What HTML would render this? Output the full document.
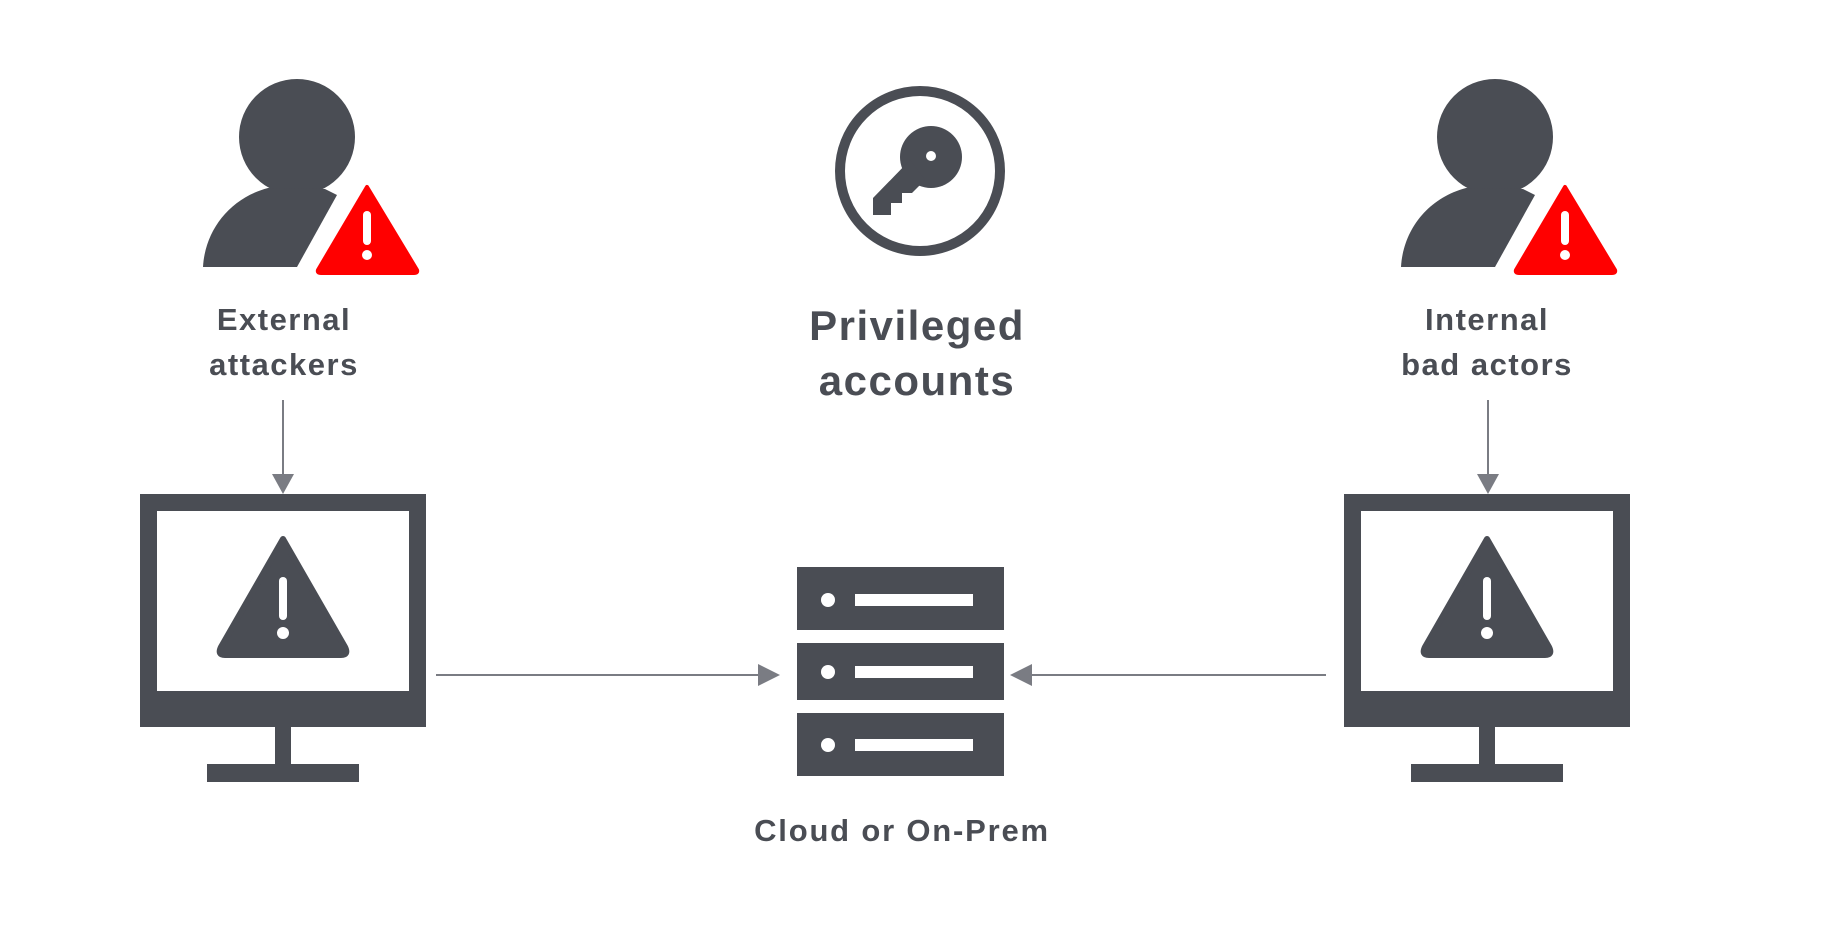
<!DOCTYPE html>
<html><head><meta charset="utf-8"><style>
html,body{margin:0;padding:0;background:#fff;}
svg{display:block;}
text{font-family:"Liberation Sans",sans-serif;fill:#4a4d54;text-anchor:middle;font-weight:bold;}
</style></head><body>
<svg width="1827" height="929" viewBox="0 0 1827 929" xmlns="http://www.w3.org/2000/svg">
<defs>
<g id="person">
  <circle cx="297" cy="137" r="58" fill="#4a4d54"/>
  <path d="M203 267 C205 230 230 198 268 188 L325 189 L337 195 L297 267 Z" fill="#4a4d54"/>
  <path d="M367 187 L417 270 Q418 273 414 273 L321 273 Q317 273 318 270 Z" fill="#ff0000" stroke="#ff0000" stroke-width="4" stroke-linejoin="round"/>
  <rect x="363" y="211" width="8" height="34" rx="4" fill="#fff"/>
  <circle cx="367" cy="255" r="5" fill="#fff"/>
</g>
<g id="monitor">
  <rect x="140" y="494" width="286" height="233" fill="#4a4d54"/>
  <rect x="157" y="511" width="252" height="180" fill="#fff"/>
  <rect x="275" y="727" width="16" height="37" fill="#4a4d54"/>
  <rect x="207" y="764" width="152" height="18" fill="#4a4d54"/>
  <path d="M283 539 L345 647 Q349 655 341 655 L225 655 Q217 655 221 647 Z" fill="#4a4d54" stroke="#4a4d54" stroke-width="6" stroke-linejoin="round"/>
  <rect x="279" y="577" width="8" height="43" rx="4" fill="#fff"/>
  <circle cx="283" cy="633" r="6" fill="#fff"/>
</g>
</defs>
<use href="#person"/>
<use href="#person" transform="translate(1198,0)"/>
<use href="#monitor"/>
<use href="#monitor" transform="translate(1204,0)"/>

<!-- key -->
<circle cx="920" cy="171" r="80" fill="none" stroke="#4a4d54" stroke-width="10"/>
<circle cx="931" cy="157" r="31" fill="#4a4d54"/>
<path d="M910 160 L873 198 L873 215 L891 215 L891 203 L902 203 L902 193 L912 193 L925 180 Z" fill="#4a4d54"/>
<circle cx="931" cy="156" r="5" fill="#fff"/>

<!-- labels -->
<text x="284" y="330" font-size="31" letter-spacing="1.5">External</text>
<text x="284" y="375" font-size="31" letter-spacing="1.5">attackers</text>
<text x="917" y="340" font-size="42" letter-spacing="1.5">Privileged</text>
<text x="917" y="395" font-size="42" letter-spacing="1.5">accounts</text>
<text x="1487" y="330" font-size="31" letter-spacing="1.5">Internal</text>
<text x="1487" y="375" font-size="31" letter-spacing="1.5">bad actors</text>
<text x="902" y="841" font-size="31" letter-spacing="1.8">Cloud or On-Prem</text>

<!-- arrows -->
<g stroke="#7a7c83" stroke-width="2">
  <line x1="283" y1="400" x2="283" y2="478"/>
  <line x1="1488" y1="400" x2="1488" y2="478"/>
  <line x1="436" y1="675" x2="760" y2="675"/>
  <line x1="1326" y1="675" x2="1030" y2="675"/>
</g>
<g fill="#7a7c83">
  <path d="M272 474 L294 474 L283 494 Z"/>
  <path d="M1477 474 L1499 474 L1488 494 Z"/>
  <path d="M758 664 L758 686 L780 675 Z"/>
  <path d="M1032 664 L1032 686 L1010 675 Z"/>
</g>

<!-- server -->
<g fill="#4a4d54">
  <rect x="797" y="567" width="207" height="63"/>
  <rect x="797" y="643" width="207" height="57"/>
  <rect x="797" y="713" width="207" height="63"/>
</g>
<g fill="#fff">
  <circle cx="828" cy="600" r="7"/><rect x="855" y="594" width="118" height="12"/>
  <circle cx="828" cy="672" r="7"/><rect x="855" y="666" width="118" height="12"/>
  <circle cx="828" cy="745" r="7"/><rect x="855" y="739" width="118" height="12"/>
</g>
</svg>
</body></html>
